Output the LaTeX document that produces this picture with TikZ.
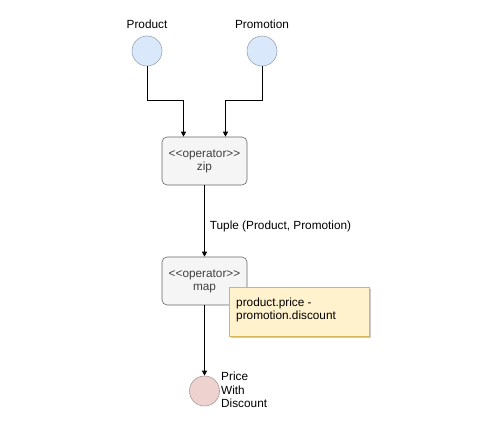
\documentclass[tikz,border=0pt]{standalone}
\usepackage{fontspec}
\setmainfont[Ligatures=NoCommon]{Liberation Sans}
\usetikzlibrary{arrows.meta,shadows}
\definecolor{cfill}{HTML}{DAE8FC}
\definecolor{cstroke}{HTML}{9AA4B0}
\definecolor{pfill}{HTML}{EED2D0}
\definecolor{pstroke}{HTML}{A89A98}
\definecolor{opfill}{HTML}{F5F5F5}
\definecolor{opstroke}{HTML}{666666}
\definecolor{notefill}{HTML}{FFF2CC}
\definecolor{notestroke}{HTML}{D6B656}
\begin{document}
\begin{tikzpicture}[x=1pt,y=-1pt,
  every node/.style={font=\fontsize{11.8}{13}\selectfont},
  src/.style={circle,draw=cstroke,fill=cfill,minimum size=30pt,inner sep=0pt,line width=0.6pt},
  sink/.style={circle,draw=pstroke,fill=pfill,minimum size=30pt,inner sep=0pt,line width=0.6pt},
  opbox/.style={draw=opstroke,fill=opfill,rounded corners=5pt,minimum width=85pt,minimum height=48pt,inner sep=0pt,align=center,text=black!75,line width=0.6pt},
  note/.style={draw=notestroke,fill=notefill,minimum width=140pt,minimum height=49pt,inner sep=0pt,line width=0.6pt,drop shadow={shadow xshift=2pt,shadow yshift=-2pt,fill=black!35,opacity=0.6}},
  conn/.style={draw=black,line width=0.8pt,-{Triangle[length=5pt,width=5pt]}},
  lbl/.style={inner sep=0pt}
]
\useasboundingbox (0,0) rectangle (500,433);
\node[src] (prod) at (147,51) {};
\node[src] (promo) at (262,51) {};
\node[lbl] (prodl) at (147,24) {Product};
\node[lbl] (promol) at (262,24) {Promotion};
\node[opbox] (zip) at (204.5,161) {<{}<operator>{}>\\zip};
\node[opbox] (map) at (204.5,281) {<{}<operator>{}>\\map};
\node[note] (nt) at (299,311.5) {};
\node[lbl,anchor=west,align=left,font=\fontsize{11.8}{13.8}\selectfont] (ntt) at (236,310) {product.price -\\promotion.discount};
\node[sink] (out) at (204.5,391) {};
\node[lbl,anchor=west,align=left,font=\fontsize{11.8}{13.5}\selectfont] (outl) at (221,390) {Price\\With\\Discount};
\coordinate (a1) at (147,100);
\coordinate (a2) at (183.5,100);
\coordinate (b1) at (262,100);
\coordinate (b2) at (225.5,100);
\draw[conn] (prod.south) -- (a1) -- (a2) -- (a2 |- zip.north);
\draw[conn] (promo.south) -- (b1) -- (b2) -- (b2 |- zip.north);
\draw[conn] (zip.south) -- node[lbl,anchor=west,xshift=5pt,yshift=-5pt] {Tuple (Product, Promotion)} (map.north);
\draw[conn] (map.south) -- (out.north);
\end{tikzpicture}
\end{document}
